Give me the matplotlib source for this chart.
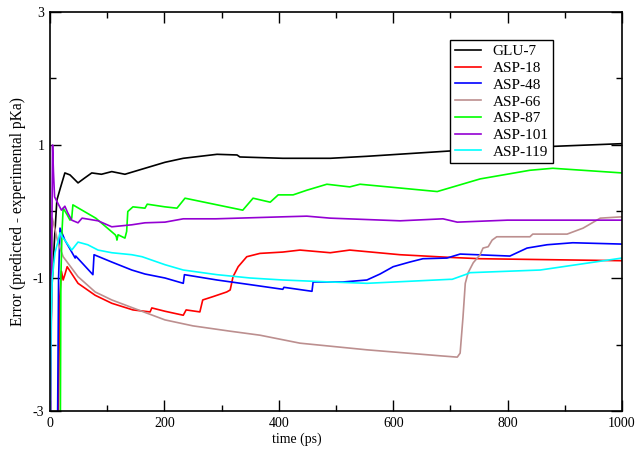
import numpy as np
import matplotlib
matplotlib.use("Agg")
import matplotlib.pyplot as plt
from matplotlib.ticker import MultipleLocator

plt.rcParams['font.family'] = ['Liberation Serif', 'DejaVu Serif']
plt.rcParams['axes.unicode_minus'] = False

# values: (time in ps, error)
glu7_t = [0, 3, 8, 12, 18, 26, 35, 49, 60, 73, 90, 108, 131, 166, 201, 233, 292, 327, 332,
          407, 490, 554, 699, 822, 1000]
glu7_v = [-2.6, -1.2, -0.4, 0.17, 0.35, 0.58, 0.55, 0.43, 0.5, 0.58, 0.56, 0.6, 0.56, 0.65,
          0.74, 0.8, 0.86, 0.85, 0.82, 0.8, 0.8, 0.83, 0.91, 0.96, 1.02]

asp18_t = [14, 17, 20, 23, 26, 30, 49, 79, 108, 145, 175, 178, 201, 233, 238, 262, 267, 285,
           309, 315, 320, 329, 344, 367, 407, 437, 490, 524, 612, 699, 752, 1000]
asp18_v = [-3.5, -1.3, -0.9, -1.03, -0.95, -0.83, -1.08, -1.26, -1.38, -1.48, -1.51, -1.45,
           -1.5, -1.56, -1.48, -1.51, -1.33, -1.28, -1.21, -1.18, -0.98, -0.83, -0.68, -0.63,
           -0.61, -0.58, -0.62, -0.58, -0.65, -0.69, -0.71, -0.74]

asp48_t = [13, 15, 17.5, 26, 44, 45, 75, 77, 108, 143, 166, 201, 233, 235, 292, 350, 407, 409,
           458, 460, 512, 554, 577, 600, 629, 652, 694, 717, 804, 834, 869, 914, 1000]
asp48_v = [-3.5, -1.0, -0.25, -0.43, -0.7, -0.67, -0.95, -0.65, -0.76, -0.88, -0.94, -1.0,
           -1.08, -0.95, -1.03, -1.1, -1.17, -1.14, -1.2, -1.06, -1.06, -1.03, -0.94, -0.83,
           -0.76, -0.71, -0.7, -0.64, -0.67, -0.55, -0.5, -0.47, -0.49]

asp66_t = [0, 4, 9, 14, 23, 49, 79, 108, 145, 201, 250, 315, 367, 437, 554, 682, 712, 717,
           722, 726, 731, 740, 752, 757, 766, 773, 781, 839, 844, 904, 932, 962, 1000]
asp66_v = [-3.5, -0.1, -0.28, -0.47, -0.68, -0.98, -1.21, -1.33, -1.45, -1.63, -1.72, -1.8,
           -1.86, -1.98, -2.08, -2.17, -2.19, -2.13, -1.59, -1.08, -0.92, -0.77, -0.65, -0.55,
           -0.53, -0.43, -0.38, -0.38, -0.34, -0.34, -0.25, -0.1, -0.08]

asp87_t = [18, 19, 21, 23, 30, 35, 38, 40, 80, 114, 116, 117, 119, 131, 134, 136, 145, 166,
           170, 201, 222, 236, 337, 355, 385, 399, 425, 449, 484, 524, 542, 677, 752, 839,
           879, 1000]
asp87_v = [-3.5, -1.0, -0.3, 0.05, -0.05, -0.13, -0.1, 0.1, -0.1, -0.35, -0.38, -0.43, -0.35,
           -0.4, -0.3, 0.0, 0.07, 0.05, 0.11, 0.07, 0.05, 0.2, 0.02, 0.2, 0.14, 0.25, 0.25,
           0.32, 0.41, 0.37, 0.41, 0.3, 0.49, 0.62, 0.65, 0.58]

asp101_t = [1, 3, 4.5, 6, 8, 14, 20, 26, 31, 38, 49, 56, 84, 108, 143, 166, 201, 233, 290,
            407, 449, 490, 612, 687, 712, 800, 1000]
asp101_v = [-3.5, -0.5, 1.0, 0.6, 0.22, 0.12, 0.02, 0.08, -0.02, -0.13, -0.17, -0.1, -0.14,
            -0.23, -0.2, -0.17, -0.16, -0.11, -0.11, -0.08, -0.07, -0.1, -0.14, -0.11, -0.16,
            -0.13, -0.13]

asp119_t = [0, 2, 4, 8.7, 14, 17.5, 21, 26, 38, 49, 66, 84, 108, 143, 161, 201, 233, 292,
            350, 407, 490, 554, 699, 703, 729, 734, 857, 1000]
asp119_v = [-3.5, -1.6, -1.0, -0.62, -0.45, -0.32, -0.38, -0.43, -0.58, -0.46, -0.5, -0.58,
            -0.62, -0.65, -0.68, -0.8, -0.88, -0.95, -1.0, -1.03, -1.06, -1.08, -1.02, -1.02,
            -0.94, -0.92, -0.88, -0.7]

series = [
    ("GLU-7", glu7_t, glu7_v, "#000000"),
    ("ASP-18", asp18_t, asp18_v, "#ff0000"),
    ("ASP-48", asp48_t, asp48_v, "#0000ff"),
    ("ASP-66", asp66_t, asp66_v, "#bc8f8f"),
    ("ASP-87", asp87_t, asp87_v, "#00ff00"),
    ("ASP-101", asp101_t, asp101_v, "#9400d3"),
    ("ASP-119", asp119_t, asp119_v, "#00ffff"),
]

y_major = [-3, -1, 1, 3]
y_minor = [-2, 0, 2]

fig = plt.figure(figsize=(6.39, 4.49), dpi=100)
ax = fig.add_axes([50 / 639, 1 - 411 / 449, 572 / 639, 399 / 449])

for name, t, v, col in series:
    ax.plot(t, v, color=col, lw=1.2, label=name)

ax.set_xlim(0, 1000)
ax.set_ylim(-3, 3)
ax.xaxis.set_major_locator(MultipleLocator(200))
ax.xaxis.set_minor_locator(MultipleLocator(100))
ax.set_yticks(y_major)
ax.set_yticks(y_minor, minor=True)
ax.tick_params(which='both', direction='in', top=True, right=True, labelsize=10, width=1)
ax.tick_params(which='major', length=8, pad=4)
ax.tick_params(which='minor', length=4)
for s in ax.spines.values():
    s.set_linewidth(1.2)

ax.set_xlabel("time (ps)", fontsize=10)
ax.xaxis.set_label_coords(0.432, -0.055)
ax.set_ylabel("Error (predicted - experimental pKa)", fontsize=11.2)
ax.yaxis.set_label_coords(-0.042, 0.5)

leg = ax.legend(loc='upper left', bbox_to_anchor=(450 / 639, 1 - 40 / 449),
                bbox_transform=fig.transFigure, fontsize=11, frameon=True, fancybox=False,
                framealpha=1, edgecolor='black', borderpad=0.3, labelspacing=0.2,
                handlelength=1.7, handletextpad=0.8, borderaxespad=0)
leg.get_frame().set_linewidth(1.0)

fig.savefig("out.png", dpi=100)
